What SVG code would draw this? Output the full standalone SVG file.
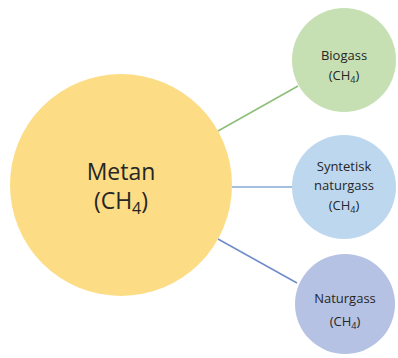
<svg xmlns="http://www.w3.org/2000/svg" width="398" height="358" viewBox="0 0 398 358">
<style>
text{font-family:"Open Sans","Noto Sans","Liberation Sans",sans-serif;fill:#262626;text-anchor:middle}
.big{font-size:23px}
.sm{font-size:13px}
.sub{font-size:0.7em}
line{stroke-width:1.5;fill:none}
</style>
<rect width="398" height="358" fill="#ffffff"/>
<g id="connectors">
<line x1="218" y1="131" x2="298" y2="86" stroke="#8DBE78"/>
<line x1="232" y1="187" x2="292" y2="187" stroke="#86ABD6"/>
<line x1="218" y1="239" x2="297" y2="283" stroke="#6F8CCB"/>
</g>
<g id="metan">
<circle cx="121" cy="185" r="111" fill="#FCDC84"/>
<text class="big" x="121" y="180">Metan</text>
<text class="big" x="121" y="209">(CH<tspan class="sub" dy="5">4</tspan><tspan dy="-5">)</tspan></text>
</g>
<g id="biogass">
<circle cx="344" cy="60" r="52" fill="#C6E0B4"/>
<text class="sm" x="344" y="60">Biogass</text>
<text class="sm" x="344" y="80">(CH<tspan class="sub" dy="3">4</tspan><tspan dy="-3">)</tspan></text>
</g>
<g id="syntetisk">
<circle cx="344" cy="187" r="52" fill="#BDD7EE"/>
<text class="sm" x="344" y="171">Syntetisk</text>
<text class="sm" x="344" y="190">naturgass</text>
<text class="sm" x="344" y="210">(CH<tspan class="sub" dy="3">4</tspan><tspan dy="-3">)</tspan></text>
</g>
<g id="naturgass">
<circle cx="345" cy="304" r="50" fill="#B6C2E4"/>
<text class="sm" x="345" y="303">Naturgass</text>
<text class="sm" x="345" y="326">(CH<tspan class="sub" dy="3">4</tspan><tspan dy="-3">)</tspan></text>
</g>
</svg>
